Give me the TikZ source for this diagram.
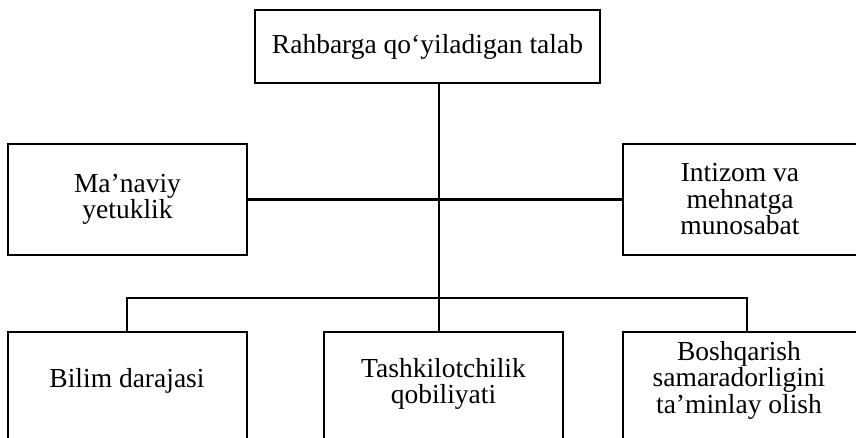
\documentclass[tikz,border=0pt]{standalone}
\usepackage{fontspec}
\setmainfont{Liberation Serif}
\begin{document}
\begin{tikzpicture}[x=1pt,y=-1pt,
  lw/.style={line width=2.6pt},
  box/.style={draw, lw, rectangle, inner sep=0pt, align=center,
    font=\fontsize{27.5}{26.5}\selectfont},
  txt/.style={inner sep=0pt, align=center, font=\fontsize{27.5}{26.5}\selectfont}]
\clip (0,0) rectangle (856,438);
\node[box, minimum width=345pt, minimum height=73pt] (top) at (427.5,46.5) {Rahbarga qo‘yiladigan talab};
\node[box, minimum width=239pt, minimum height=111pt] (l) at (127.5,199.5) {Ma’naviy\\yetuklik};
\node[box, minimum width=234pt, minimum height=111pt] (r) at (740,199.5) {Intizom va\\mehnatga\\munosabat};
\node[box, minimum width=239pt, minimum height=140pt] (b1) at (127.5,402) {};
\node[box, minimum width=239pt, minimum height=140pt] (b2) at (443.5,402) {};
\node[box, minimum width=234pt, minimum height=140pt] (b3) at (740,402) {};
\node[txt] (b1t) at (127,381) {Bilim darajasi};
\node[txt] (b2t) at (443.5,384) {Tashkilotchilik\\qobiliyati};
\node[txt] (b3t) at (739,380) {Boshqarish\\samaradorligini\\ta’minlay olish};
\coordinate (jb) at (439,298);
\draw[lw] (top.south -| jb) -- (b2.north -| jb);
\draw[lw] (l.east) -- (r.west);
\draw[lw] (b1.north -| 127,0) -- (jb -| 127,0) -- (jb -| 747,0) -- (b3.north -| 747,0);
\end{tikzpicture}
\end{document}
